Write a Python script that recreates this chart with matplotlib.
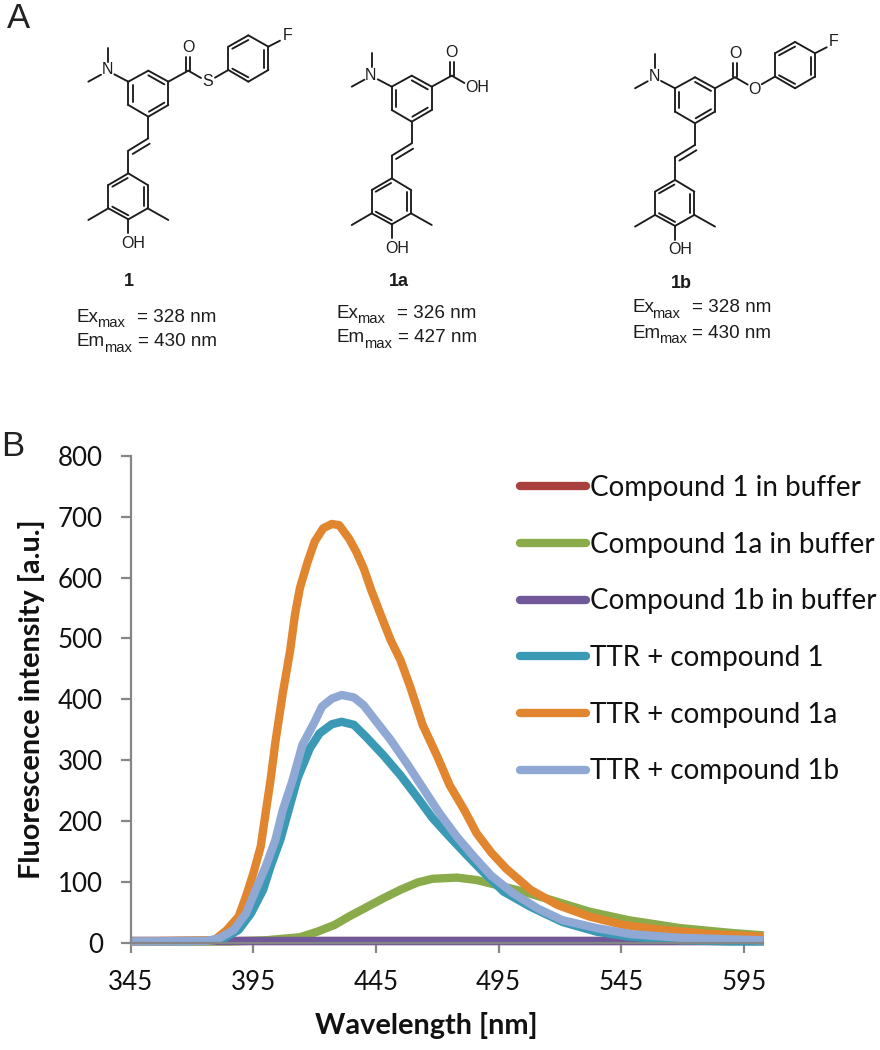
"""
Fluorescence spectra of compounds 1, 1a, 1b with structures above.
"""

import matplotlib
matplotlib.use("Agg")
import matplotlib.pyplot as plt
from matplotlib.lines import Line2D

W, H = 880, 1050

# ── Data ──────────────────────────────────────────────────────────
buffer_wl = [345, 603]
compound1_buffer = [2, 2]
compound1b_buffer = [2, 2]

compound1a_wl = [345, 385, 400, 414, 421, 428, 434, 441, 448, 455, 462, 468, 478,
                 486, 494, 505, 519, 532, 548, 569, 590, 603]
compound1a_buffer = [2, 2, 4, 9, 18, 29, 43, 58, 73, 87, 99, 105, 107,
                     103, 95, 84, 67, 51, 37, 24, 16, 12]

ttr1_wl = [345, 378, 383, 389, 394, 399, 402, 406, 413, 418, 422, 427, 431, 436, 441, 448,
           455, 462, 468, 475, 482, 489, 497, 508, 521, 535, 548, 569, 590, 603]
ttr1 = [2, 3, 7, 21, 48, 87, 125, 169, 270, 319, 344, 359, 363, 358, 338, 308,
        275, 238, 205, 174, 144, 115, 84, 59, 34, 18, 10, 4, 2, 2]

ttr1a_wl = [345, 379, 384, 389, 392, 395, 398, 400, 402, 404, 407, 410, 412, 414, 417, 420, 423.5,
            427, 430, 434, 437, 440, 443, 447, 451, 455, 459, 464, 470, 475, 481, 486,
            492, 498, 508, 519, 532, 546, 562, 582, 603]
ttr1a = [2, 4, 20, 43, 76, 114, 158, 213, 267, 330, 410, 480, 540, 583, 624, 659, 681,
         688, 686, 664, 642, 615, 580, 538, 497, 464, 420, 358, 306, 259, 218, 180,
         148, 122, 87, 62, 43, 29, 21, 14, 10]

ttr1b_wl = [345, 376, 381, 387, 392, 396, 400, 404, 407, 411, 415, 420, 423, 427, 431, 436, 440,
            445, 451, 458, 464, 471, 478, 485, 492, 501, 511, 521, 535, 549, 569, 603]
ttr1b = [2, 3, 7, 21, 48, 87, 125, 169, 218, 267, 325, 363, 388, 401, 407, 403, 390,
         364, 333, 292, 255, 212, 174, 141, 110, 81, 56, 37, 24, 14, 8, 4]

x_ticks = [345, 395, 445, 495, 545, 595]
y_ticks = [0, 100, 200, 300, 400, 500, 600, 700, 800]

series_labels = ["Compound 1 in buffer", "Compound 1a in buffer", "Compound 1b in buffer",
                 "TTR + compound 1", "TTR + compound 1a", "TTR + compound 1b"]
series_colors = ["#A9423F", "#8AAB4A", "#71589A", "#3A9AB5", "#E1852F", "#8FA8D4"]

GREY = "#868686"
INK = "#1c1c1c"
ARIAL = "Liberation Sans"
BODY = "Lato"


def bond(ax, p, q, ox, oy):
    # coordinates are in 3x zoom units of the first structure
    ax.plot([p[0] / 3 + ox, q[0] / 3 + ox], [p[1] / 3 + oy, q[1] / 3 + oy],
            color=INK, lw=1.35, solid_capstyle="round")


def atom(ax, s, x, y, ox, oy, size=11.5):
    ax.text(x / 3 + ox, y / 3 + oy, s, family=ARIAL, fontsize=size, color=INK,
            ha="center", va="center")


def draw_aryl_fluoride(ax, ox, oy):
    ring = [(685, 210), (685, 140), (745, 106), (805, 140), (805, 210), (745, 245), (685, 210)]
    for p, q in zip(ring, ring[1:]):
        bond(ax, p, q, ox, oy)
    bond(ax, (697, 146), (745, 120), ox, oy)
    bond(ax, (793, 150), (793, 205), ox, oy)
    bond(ax, (697, 206), (745, 232), ox, oy)
    bond(ax, (805, 140), (840, 122), ox, oy)
    atom(ax, "F", 862, 105, ox, oy)


def draw_structure(ax, ox, oy, tail):
    ring = [(445, 212), (505, 245), (505, 315), (445, 350), (385, 315), (385, 245), (445, 212)]
    for p, q in zip(ring, ring[1:]):
        bond(ax, p, q, ox, oy)
    bond(ax, (445, 226), (493, 253), ox, oy)
    bond(ax, (493, 308), (447, 335), ox, oy)
    bond(ax, (398, 255), (398, 305), ox, oy)

    # dimethylamino
    bond(ax, (385, 245), (343, 223), ox, oy)
    bond(ax, (325, 185), (325, 143), ox, oy)
    bond(ax, (303, 224), (265, 245), ox, oy)
    atom(ax, "N", 322, 210, ox, oy)

    # carbonyl
    bond(ax, (505, 245), (565, 212), ox, oy)
    bond(ax, (559, 212), (559, 170), ox, oy)
    bond(ax, (571, 212), (571, 170), ox, oy)
    atom(ax, "O", 565, 142, ox, oy)
    bond(ax, (565, 212), (603, 234), ox, oy)

    if tail == "S":
        atom(ax, "S", 622, 245, ox, oy)
    elif tail == "O":
        atom(ax, "O", 622, 248, ox, oy)
    else:
        atom(ax, "OH", 642, 247, ox, oy)
    if tail in ("S", "O"):
        bond(ax, (645, 233), (685, 210), ox, oy)
        draw_aryl_fluoride(ax, ox, oy)

    # vinyl
    bond(ax, (445, 350), (445, 415), ox, oy)
    bond(ax, (445, 415), (385, 452), ox, oy)
    bond(ax, (449, 431), (398, 462), ox, oy)
    bond(ax, (385, 452), (385, 520), ox, oy)

    # phenol ring
    ring = [(385, 520), (443, 555), (443, 625), (385, 658), (325, 625), (325, 555), (385, 520)]
    for p, q in zip(ring, ring[1:]):
        bond(ax, p, q, ox, oy)
    bond(ax, (337, 560), (383, 534), ox, oy)
    bond(ax, (431, 562), (431, 618), ox, oy)
    bond(ax, (337, 620), (385, 646), ox, oy)
    bond(ax, (325, 625), (265, 660), ox, oy)
    bond(ax, (443, 625), (505, 660), ox, oy)
    bond(ax, (385, 658), (385, 700), ox, oy)
    atom(ax, "OH", 400, 730, ox, oy)


def sub_label(ax, x, y, main, x_sub, x_eq, rest):
    ax.text(x, y, main, family=ARIAL, fontsize=13.6, color=INK, ha="left", va="center")
    ax.text(x_sub, y + 6, "max", family=ARIAL, fontsize=10.6, color=INK, ha="left", va="center")
    ax.text(x_eq, y, rest, family=ARIAL, fontsize=13.6, color=INK, ha="left", va="center")


fig = plt.figure(figsize=(W / 100, H / 100), dpi=100, facecolor="white")

# ── Panel A: structures ───────────────────────────────────────────
top = fig.add_axes([0, 0, 1, 1], zorder=0)
top.set_xlim(0, W)
top.set_ylim(H, 0)
top.axis("off")

draw_structure(top, 0, 0, "S")
draw_structure(top, 263.4, 5, "OH")
draw_structure(top, 546.7, 6.6, "O")

top.text(7, 18, "A", family=ARIAL, fontsize=25, color="#222222", ha="left", va="center")
top.text(1, 446, "B", family=ARIAL, fontsize=25, color="#222222", ha="left", va="center")

top.text(129, 281, "1", family=ARIAL, fontsize=13, weight="bold", color=INK, ha="center", va="center")
top.text(399, 282, "1a", family=ARIAL, fontsize=13, weight="bold", color=INK, ha="center", va="center")
top.text(681, 283, "1b", family=ARIAL, fontsize=13, weight="bold", color=INK, ha="center", va="center")

sub_label(top, 77, 317, "Ex", 97, 137, "= 328 nm")
sub_label(top, 77, 342, "Em", 104, 138, "= 430 nm")
sub_label(top, 337, 313, "Ex", 357, 397, "= 326 nm")
sub_label(top, 337, 338, "Em", 364, 398, "= 427 nm")
sub_label(top, 632, 308, "Ex", 652, 692, "= 328 nm")
sub_label(top, 632, 333, "Em", 659, 692, "= 430 nm")

# ── Panel B: spectra ──────────────────────────────────────────────
left, right, y_top, y_bot = 130.7, 763.3, 455.8, 942.7
ax = fig.add_axes([left / W, 1 - y_bot / H, (right - left) / W, (y_bot - y_top) / H], zorder=1)
ax.patch.set_alpha(0)

curves = [
    (buffer_wl, compound1_buffer),
    (compound1a_wl, compound1a_buffer),
    (buffer_wl, compound1b_buffer),
    (ttr1_wl, ttr1),
    (ttr1a_wl, ttr1a),
    (ttr1b_wl, ttr1b),
]
for (wl, vals), color in zip(curves, series_colors):
    ax.plot(wl, vals, color=color, lw=6.0, solid_capstyle="butt",
            solid_joinstyle="round", clip_on=False)

ax.set_xlim(345, 602.9)
ax.set_ylim(0, 800)
ax.set_xticks(x_ticks)
ax.set_yticks(y_ticks)
for side in ("top", "right"):
    ax.spines[side].set_visible(False)
for side in ("left", "bottom"):
    ax.spines[side].set_color(GREY)
    ax.spines[side].set_linewidth(1.6)
ax.tick_params(axis="both", color=GREY, width=1.6, length=7, labelsize=18.6, labelcolor="#111111")
ax.tick_params(axis="x", pad=13)
ax.tick_params(axis="y", pad=13)
for lab in ax.get_xticklabels() + ax.get_yticklabels():
    lab.set_family(BODY)

ax.set_xlabel("Wavelength [nm]", family=BODY, weight="bold", fontsize=20.8, color="#111111")
ax.set_ylabel("Fluorescence intensity [a.u.]", family=BODY, weight="bold", fontsize=20.8, color="#111111")
ax.xaxis.set_label_coords(0.4675, (y_bot - 1012) / (y_bot - y_top))
ax.yaxis.set_label_coords((45 - left) / (right - left), 0.5)

handles = [Line2D([], [], color=c, lw=6.0, solid_capstyle="round") for c in series_colors]
ax.legend(handles, series_labels, frameon=False, loc="upper left",
          bbox_to_anchor=((520 - left) / (right - left), (y_bot - 475) / (y_bot - y_top)),
          borderaxespad=0, borderpad=0, prop={"family": BODY, "size": 20},
          handlelength=47.5 / 20, handletextpad=0.16, labelspacing=1.105, labelcolor="#111111")

fig.savefig("out.png", dpi=100, facecolor="white")
